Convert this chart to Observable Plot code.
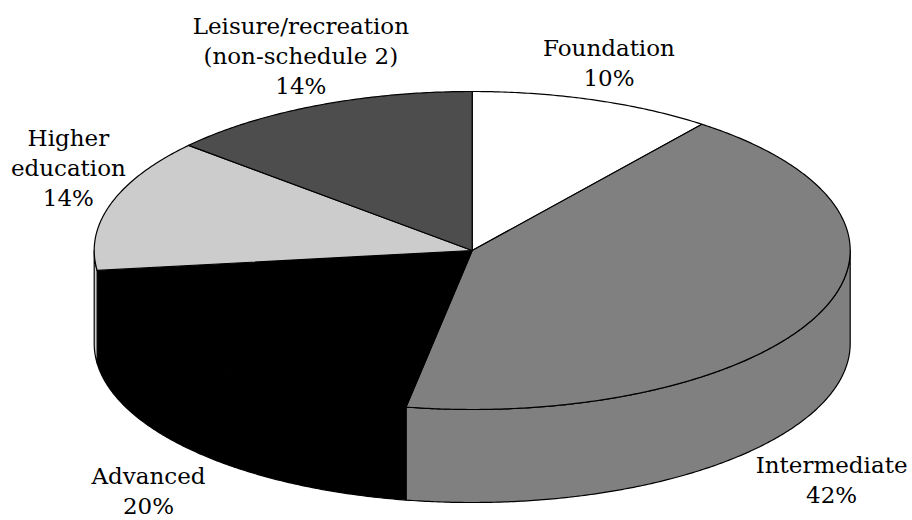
<!DOCTYPE html>
<html>
<head>
<meta charset="utf-8">
<script src="https://cdn.jsdelivr.net/npm/d3@7"></script>
<script src="https://cdn.jsdelivr.net/npm/@observablehq/plot@0.6"></script>
<style>
html,body{margin:0;padding:0;background:#fff}
svg{display:block}
</style>
</head>
<body>
<div id="chart"></div>
<script>
const categories = ["Foundation", "Intermediate", "Advanced", "Higher education", "Leisure/recreation"];
const labelLines = ["Foundation", "Intermediate", "Advanced", "Higher\neducation", "Leisure/recreation\n(non-schedule 2)"];
const shares = [10.4, 42.4, 20.2, 13.5, 13.5];
const sliceColors = ["#ffffff", "#808080", "#000000", "#cccccc", "#4d4d4d"];

// Layout, in the pie's own unit coordinates (1 = the rim of the top ellipse)
const wallDepth = 0.585;
const labelAnchors = [
  [0.3618, 1.188],
  [0.9508, -1.436],
  [-0.8563, -1.502],
  [-1.0683, 0.529],
  [-0.4533, 1.232]
];

const arcs = d3.pie().sort(null).value(d => d).startAngle(0).endAngle(2 * Math.PI)(shares);
const rimStep = Math.PI / 360;

function rim(a0, a1, drop) {
  const n = Math.max(1, Math.ceil(Math.abs(a1 - a0) / rimStep));
  return d3.range(n + 1).map(i => {
    const a = a0 + (a1 - a0) * i / n;
    return {x: Math.sin(a), y: Math.cos(a) - drop};
  });
}

const rows = [];
// Side walls: only the front half of the rim (pi/2 to 3pi/2) faces the viewer
arcs.forEach((arc, i) => {
  const a0 = Math.max(arc.startAngle, Math.PI / 2);
  const a1 = Math.min(arc.endAngle, 3 * Math.PI / 2);
  if (a1 <= a0) return;
  const pts = [...rim(a0, a1, 0), ...rim(a1, a0, wallDepth)];
  pts.push(pts[0]);
  pts.forEach(p => rows.push({...p, id: "wall" + i, slice: categories[i]}));
});
// Top face
arcs.forEach((arc, i) => {
  const pts = [{x: 0, y: 0}, ...rim(arc.startAngle, arc.endAngle, 0), {x: 0, y: 0}];
  pts.forEach(p => rows.push({...p, id: "top" + i, slice: categories[i]}));
});

const labels = categories.map((c, i) => ({
  text: `${labelLines[i]}\n${Math.round(shares[i])}%`,
  x: labelAnchors[i][0],
  y: labelAnchors[i][1]
}));

const plot = Plot.plot({
  width: 912,
  height: 520,
  margin: 0,
  x: {domain: [-1, 1], range: [93.7, 849.7], axis: null},
  y: {domain: [-1, 1], range: [409, 91], axis: null},
  color: {domain: categories, range: sliceColors},
  marks: [
    Plot.line(rows, {
      x: "x", y: "y", z: "id", fill: "slice",
      stroke: "#000", strokeWidth: 1.2, strokeLinejoin: "round"
    }),
    Plot.text(labels, {
      x: "x", y: "y", text: "text",
      fontFamily: "DejaVu Serif", fontSize: 23, lineHeight: 1.3,
      fill: "#000", textAnchor: "middle"
    })
  ]
});
document.getElementById("chart").appendChild(plot);
</script>
</body>
</html>
